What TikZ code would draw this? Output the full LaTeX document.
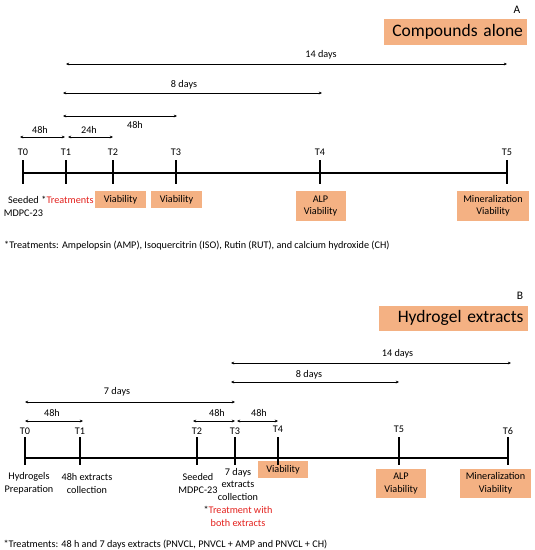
\documentclass[tikz,border=0pt]{standalone}
\usepackage{fontspec}
\setmainfont{Carlito}
\usetikzlibrary{arrows.meta}
\definecolor{boxfill}{HTML}{F4B183}
\definecolor{redtxt}{HTML}{E3201C}
\begin{document}
\begin{tikzpicture}[x=1pt,y=-1pt,
  lbl/.style={font=\fontsize{10.2}{12.5}\selectfont, inner sep=0pt, align=center},
  foot/.style={font=\fontsize{10.2}{12.5}\selectfont, inner sep=0pt, anchor=west},
  dur/.style={{Stealth[length=3.2pt,width=2.8pt]}-{Stealth[length=3.2pt,width=2.8pt]}, line width=0.8pt},
  tline/.style={line width=1.1pt},
  obox/.style={fill=boxfill, draw=none, font=\fontsize{10.2}{12.5}\selectfont, align=center, inner sep=0pt},
  ttl/.style={fill=boxfill, draw=none, font=\fontsize{17.5}{20}\selectfont, inner sep=0pt, text width=#1, align=right},
  plabel/.style={font=\fontsize{11.5}{13}\selectfont, inner sep=0pt}
]
\useasboundingbox (0,0) rectangle (535,550);

%================ Panel A ================
\node[plabel] (A) at (517,10) {A};
\node[ttl=135pt, minimum width=143pt, minimum height=26pt] (titleA) at (455.5,32) {Compounds alone\hspace*{2pt}};

% duration arrows
\coordinate (a14s) at (66,64);  \coordinate (a14e) at (507,64);
\draw[dur] (a14s) -- (a14e);
\node[lbl] (l14A) at (321,55) {14 days};
\coordinate (a8s) at (63,93);  \coordinate (a8e) at (322,93);
\draw[dur] (a8s) -- (a8e);
\node[lbl] (l8A) at (184,85) {8 days};
\coordinate (a48s) at (63,116);  \coordinate (a48e) at (177,116);
\draw[dur] (a48s) -- (a48e);
\node[lbl] (l48A) at (135,125) {48h};
\coordinate (b48s) at (20,137);  \coordinate (b48e) at (65,137);
\draw[dur] (b48s) -- (b48e);
\node[lbl] (l48Ab) at (40,130) {48h};
\coordinate (c24s) at (68,137);  \coordinate (c24e) at (113,137);
\draw[dur] (c24s) -- (c24e);
\node[lbl] (l24A) at (89,130) {24h};

% timeline
\coordinate (tAs) at (23,173); \coordinate (tAe) at (507,173);
\draw[tline] (tAs) -- (tAe);
\foreach \n/\x in {0/23,1/66,2/113,3/176,4/320,5/507}{
  \coordinate (tA\n top) at (\x,160);
  \coordinate (tA\n bot) at (\x,184);
  \draw[tline] (tA\n top) -- (tA\n bot);
  \node[lbl] (TA\n) at (\x,152) {T\n};
}
\node[lbl] (seedA) at (23.5,206.5) {Seeded\\MDPC-23};
\node[lbl] (treatA) at (67.5,200) {*\textcolor{redtxt}{Treatments}};
\node[obox, minimum width=51pt, minimum height=17pt] (v1A) at (120.5,199.5) {Viability};
\node[obox, minimum width=51pt, minimum height=17pt] (v2A) at (176.5,199.5) {Viability};
\node[obox, minimum width=50pt, minimum height=30pt] (alpA) at (320.5,206) {ALP\\Viability};
\node[obox, minimum width=72pt, minimum height=30pt] (minA) at (493,206) {Mineralization\\Viability};
\node[foot] (footA) at (4,246) {*Treatments: Ampelopsin (AMP), Isoquercitrin (ISO), Rutin (RUT), and calcium hydroxide (CH)};

%================ Panel B ================
\node[plabel] (B) at (520,296) {B};
\node[ttl=141pt, minimum width=149pt, minimum height=25pt] (titleB) at (453,318) {Hydrogel extracts\hspace*{2pt}};

\coordinate (d14s) at (231,363);  \coordinate (d14e) at (511,363);
\draw[dur] (d14s) -- (d14e);
\node[lbl] (l14B) at (397.5,354) {14 days};
\coordinate (d8s) at (231,382);  \coordinate (d8e) at (399,382);
\draw[dur] (d8s) -- (d8e);
\node[lbl] (l8B) at (309,374.5) {8 days};
\coordinate (d7s) at (25,402);  \coordinate (d7e) at (235,402);
\draw[dur] (d7s) -- (d7e);
\node[lbl] (l7B) at (117,392) {7 days};
\coordinate (e1s) at (25,421);  \coordinate (e1e) at (83,421);
\draw[dur] (e1s) -- (e1e);
\node[lbl] (l48B1) at (52,413) {48h};
\coordinate (e2s) at (193,421);  \coordinate (e2e) at (235,421);
\draw[dur] (e2s) -- (e2e);
\node[lbl] (l48B2) at (217,413) {48h};
\coordinate (e3s) at (237,421);  \coordinate (e3e) at (278,421);
\draw[dur] (e3s) -- (e3e);
\node[lbl] (l48B3) at (259,413) {48h};

\coordinate (tBs) at (25,458); \coordinate (tBe) at (508,458);
\draw[tline] (tBs) -- (tBe);
\foreach \n/\x/\ly in {0/25/431,1/80/431,2/197/431,3/235/431,4/278/429,5/399/429,6/508/431}{
  \coordinate (tB\n top) at (\x,437);
  \coordinate (tB\n bot) at (\x,465);
  \draw[tline] (tB\n top) -- (tB\n bot);
  \node[lbl] (TB\n) at (\x,\ly) {T\n};
}
\node[lbl] (prepB) at (29,483.5) {Hydrogels\\Preparation};
\node[lbl] (col48B) at (87,483.5) {48h extracts\\collection};
\node[lbl] (seedB) at (198,483.5) {Seeded\\MDPC-23};
\node[lbl] (col7B) at (238,484) {7 days\\extracts\\collection};
\node[lbl] (treatB) at (238,516.5) {*\textcolor{redtxt}{Treatment with}\\\textcolor{redtxt}{both extracts}};
\node[obox, minimum width=50.5pt, minimum height=16.5pt] (vB) at (283,469.3) {Viability};
\node[obox, minimum width=50.5pt, minimum height=29.5pt] (alpB) at (401,483.3) {ALP\\Viability};
\node[obox, minimum width=71pt, minimum height=29.5pt] (minB) at (495.5,483.3) {Mineralization\\Viability};
% tick of T4 over the viability box
\draw[tline] (tB4top) -- (tB4bot);
\node[foot] (footB) at (3.4,545) {*Treatments: 48 h and 7 days extracts (PNVCL, PNVCL + AMP and PNVCL + CH)};
\end{tikzpicture}
\end{document}
